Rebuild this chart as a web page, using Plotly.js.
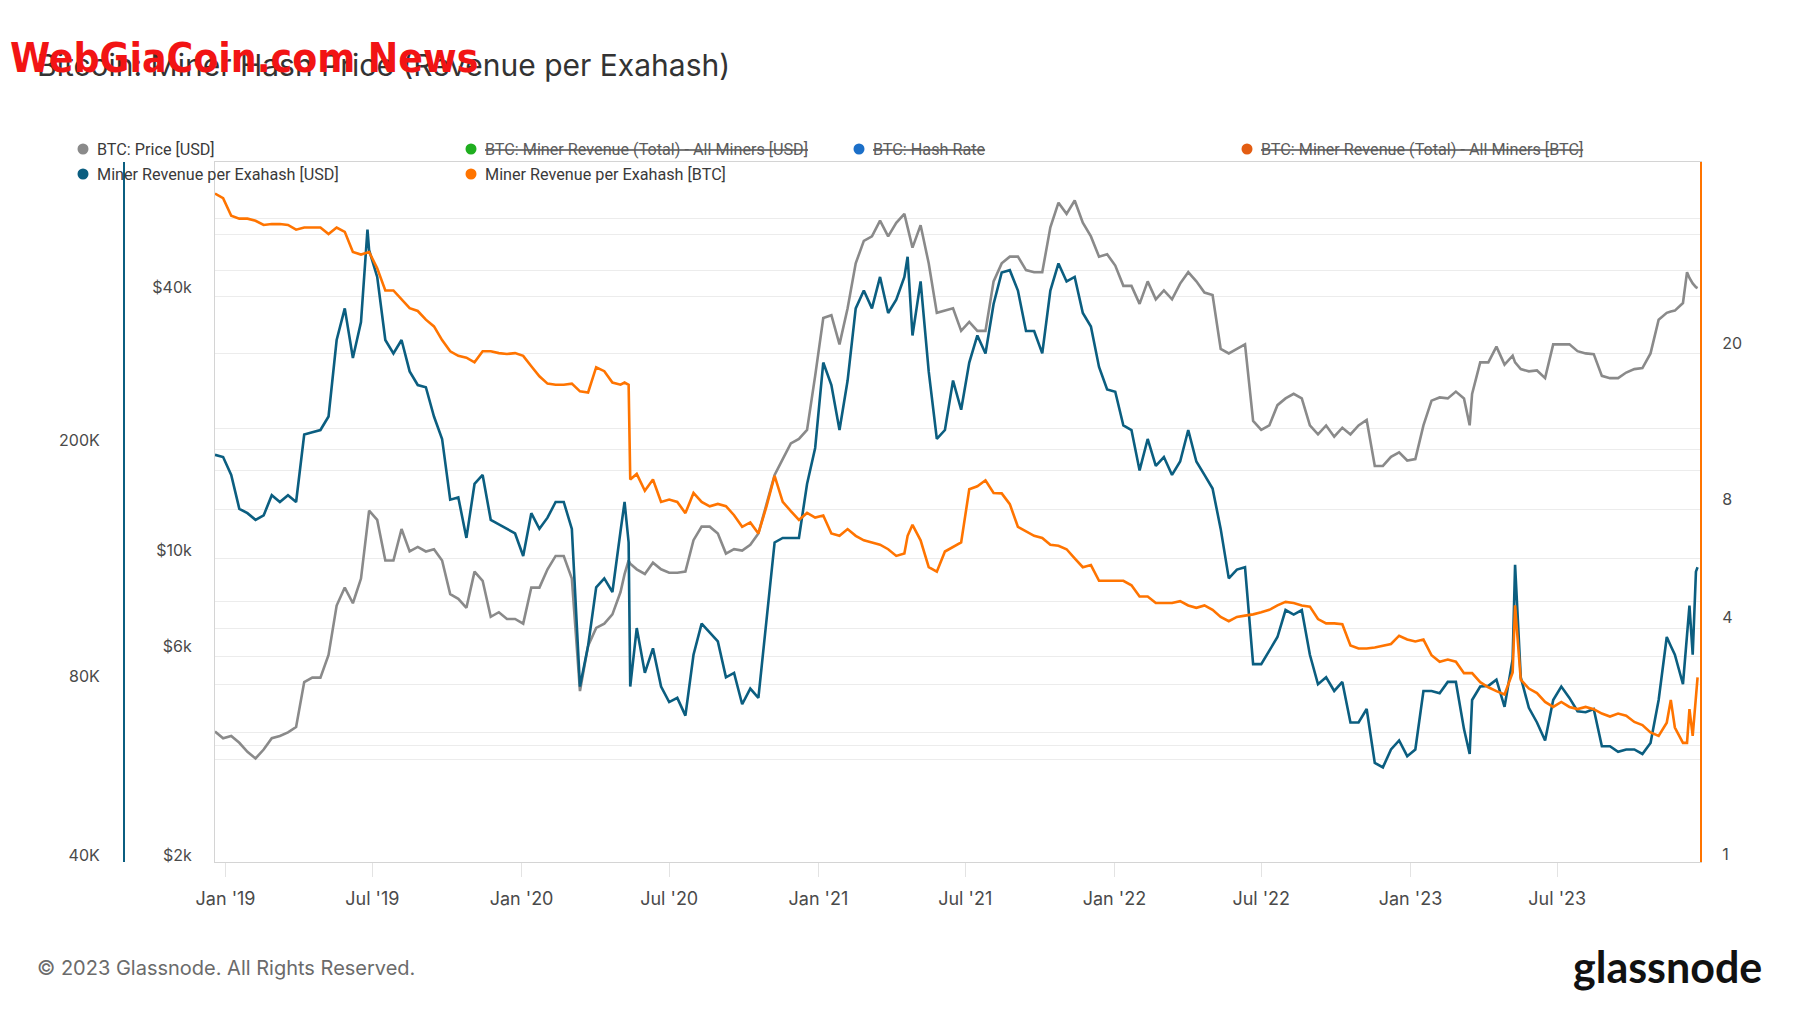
<!DOCTYPE html>
<html><head><meta charset="utf-8">
<script src="https://cdn.plot.ly/plotly-3.0.1.min.js"></script>
<style>html,body{margin:0;padding:0;background:#fff;}#chart{width:1800px;height:1013px;}</style>
</head><body><div id="chart"></div>
<script>
// ---------- DATA ----------
const dates = [
 '2018-12-19','2018-12-29','2019-01-08','2019-01-18','2019-01-28','2019-02-07','2019-02-17','2019-02-27','2019-03-09','2019-03-19',
 '2019-03-29','2019-04-08','2019-04-18','2019-04-28','2019-05-08','2019-05-18','2019-05-28','2019-06-07','2019-06-17',
 '2019-06-25','2019-06-27','2019-07-07','2019-07-17','2019-07-27','2019-08-06','2019-08-16','2019-08-26','2019-09-05','2019-09-15',
 '2019-09-25','2019-10-05','2019-10-15','2019-10-25','2019-11-04','2019-11-14','2019-11-24','2019-12-04','2019-12-14','2019-12-24',
 '2020-01-03','2020-01-13','2020-01-23','2020-02-02','2020-02-12','2020-02-22','2020-03-03','2020-03-13','2020-03-23','2020-04-02',
 '2020-04-12','2020-04-22','2020-05-02',
 '2020-05-07','2020-05-12','2020-05-14',
 '2020-05-22','2020-06-01','2020-06-11','2020-06-21','2020-07-01','2020-07-11','2020-07-21','2020-07-31','2020-08-10','2020-08-20',
 '2020-08-30','2020-09-09','2020-09-19','2020-09-29','2020-10-09','2020-10-19','2020-10-29','2020-11-08','2020-11-18','2020-11-28',
 '2020-12-08','2020-12-18','2020-12-28','2021-01-07','2021-01-17','2021-01-27','2021-02-06','2021-02-16','2021-02-26','2021-03-08',
 '2021-03-18','2021-03-28','2021-04-07','2021-04-17',
 '2021-04-21',
 '2021-04-27','2021-05-07','2021-05-17','2021-05-27','2021-06-06','2021-06-16','2021-06-26','2021-07-06','2021-07-16','2021-07-26',
 '2021-08-05','2021-08-15','2021-08-25','2021-09-04','2021-09-14','2021-09-24','2021-10-04','2021-10-14','2021-10-24','2021-11-03',
 '2021-11-13','2021-11-23','2021-12-03','2021-12-13','2021-12-23','2022-01-02','2022-01-12','2022-01-22','2022-02-01','2022-02-11',
 '2022-02-21','2022-03-03','2022-03-13','2022-03-23','2022-04-02','2022-04-12','2022-04-22','2022-05-02','2022-05-12','2022-05-22',
 '2022-06-01','2022-06-11','2022-06-21','2022-07-01','2022-07-11','2022-07-21','2022-07-31','2022-08-10','2022-08-20','2022-08-30',
 '2022-09-09','2022-09-19','2022-09-29','2022-10-09','2022-10-19','2022-10-29','2022-11-08','2022-11-18','2022-11-28','2022-12-08',
 '2022-12-18','2022-12-28','2023-01-07','2023-01-17','2023-01-27','2023-02-06','2023-02-16','2023-02-26','2023-03-08',
 '2023-03-15',
 '2023-03-18','2023-03-28','2023-04-07','2023-04-17','2023-04-27','2023-05-07',
 '2023-05-10',
 '2023-05-17','2023-05-27','2023-06-06','2023-06-16','2023-06-26','2023-07-06','2023-07-16','2023-07-26','2023-08-05','2023-08-15',
 '2023-08-25','2023-09-04','2023-09-14','2023-09-24','2023-10-04','2023-10-14','2023-10-24','2023-11-03','2023-11-13',
 '2023-11-18','2023-11-23','2023-12-03','2023-12-08','2023-12-11','2023-12-15','2023-12-19','2023-12-21'
];

// BTC: Price [USD]
const btcPriceUsd = [
 3837,3703,3747,3616,3448,3328,3489,3703,3747,3819,3930,4983,5100,5100,5750,7460,8200,7550,8600,
 11600,12300,11720,9460,9460,11170,9920,10160,9920,10040,9460,7920,7730,7370,8920,8500,7030,7200,6950,6950,6780,8200,8200,9030,9690,9690,8600,4750,6030,6630,6780,7120,8010,
 8800,9460,9300,
 9030,8810,9350,9030,8870,8870,8920,10530,11310,11310,10910,9810,10040,9970,10280,10910,12730,14860,16150,17550,17970,18850,25060,34000,34500,29590,35780,45370,51100,52300,56860,52300,56200,58900,
 54850,
 49300,55500,45370,34940,35360,35780,31770,33300,31770,31770,41260,45370,47000,47000,43780,43300,43300,54850,62500,58900,
 63200,56200,52300,47000,47600,44830,40290,40290,36640,41260,37520,39340,37520,40780,43300,41260,38880,38400,28890,28210,
 28890,29590,19750,18850,19290,21470,22250,22790,22250,19290,18400,19290,18180,19060,18400,19290,19860,15580,15580,16340,
 16730,16030,16150,19290,21990,22360,22250,23060,22250,
 19300,
 22790,26900,26900,29240,26590,27880,
 26900,
 25970,25660,25780,24760,29590,29590,29590,28550,28210,28100,25060,24760,24760,25500,25970,26100,28210,33710,34940,
 35200,35360,36800,43300,42000,40800,40000,39800
];

// Miner Revenue per Exahash [USD]
const revPerEhUsd = [
 189000,187400,174800,153300,150700,146800,149400,161600,157400,161600,157400,204500,206300,208100,219300,295100,333600,275200,316400,
 452700,418300,376900,295100,280100,295100,261200,247800,245700,219300,201000,158800,160200,136900,168800,174800,146800,144300,141800,139300,127600,150700,141800,148100,157400,157400,141800,76900,90000,113000,117000,111000,140500,
 157400,134500,76900,
 96500,81100,89200,76900,72400,73600,68700,87000,98200,94900,91600,79700,81100,71800,76300,73600,100000,134500,136900,136900,136900,168800,194100,270400,247800,208100,252100,333600,357500,333600,376900,327700,345200,376900,
 407600,
 300300,370400,261200,201000,208100,252100,225100,270400,300300,280100,339400,383500,386900,357500,305600,305600,280100,357500,397200,370400,
 376900,327700,310900,265800,243500,241400,211800,208100,177900,201000,181000,187400,174800,184200,208100,184200,174800,165800,141800,117000,
 121100,122200,83900,83900,88400,93200,103500,101700,103500,87000,77600,79700,75600,78300,66900,66900,70500,57200,56200,60250,
 62400,58700,60250,75600,75600,74900,78300,78300,65200,
 59200,
 73000,76900,77100,79000,71100,85500,
 123300,
 79700,70800,66900,62400,73000,76900,73600,69900,69600,70500,61000,61000,59700,60250,60250,59200,61800,73000,93200,
 90000,87000,77600,94900,105300,87000,120100,122200
];

// Miner Revenue per Exahash [BTC]
const revPerEhBtc = [
 48.2,46.9,42.3,41.6,41.6,41.1,40.1,40.3,40.3,40.1,39.0,39.5,39.5,39.5,38.0,39.5,38.5,34.2,33.7,
 34.0,34.2,31.1,27.3,27.3,25.9,24.6,24.2,23.0,22.1,20.4,19.1,18.6,18.4,17.9,19.1,19.1,18.9,18.8,18.9,18.6,17.5,16.5,15.8,15.7,15.7,15.8,15.1,15.0,17.4,17.0,15.9,15.7,
 15.9,15.7,9.0,
 9.3,8.43,9.0,7.89,8.0,7.89,7.39,8.32,7.89,7.69,7.8,7.7,7.3,6.82,7.0,6.56,7.69,9.2,7.9,7.48,7.1,7.4,7.2,7.29,6.56,6.47,6.73,6.47,6.3,6.22,6.14,5.98,5.75,5.83,
 6.47,
 6.9,6.3,5.38,5.24,5.9,6.06,6.22,8.5,8.65,8.96,8.32,8.3,7.79,6.82,6.65,6.47,6.39,6.14,6.1,5.98,
 5.67,5.38,5.45,4.97,4.97,4.97,4.97,4.84,4.53,4.53,4.36,4.36,4.36,4.41,4.3,4.24,4.3,4.19,4.02,3.92,
 4.02,4.05,4.08,4.13,4.19,4.3,4.39,4.36,4.3,4.27,3.97,3.87,3.87,3.85,3.4,3.34,3.34,3.36,3.39,3.43,
 3.6,3.52,3.48,3.52,3.21,3.09,3.13,3.09,2.89,
 2.89,
 2.89,2.74,2.66,2.60,2.55,2.9,
 4.3,
 2.78,2.64,2.57,2.44,2.37,2.44,2.37,2.34,2.37,2.34,2.28,2.24,2.28,2.25,2.17,2.13,2.04,2.0,2.16,
 2.47,2.10,1.92,1.92,2.34,2.00,2.60,2.82
];

// Tick labels
const xTickVals = ['2019-01-01','2019-07-01','2020-01-01','2020-07-01','2021-01-01','2021-07-01','2022-01-01','2022-07-01','2023-01-01','2023-07-01'];
const xTickText = ["Jan '19","Jul '19","Jan '20","Jul '20","Jan '21","Jul '21","Jan '22","Jul '22","Jan '23","Jul '23"];
const priceTickVals = [2000, 6000, 10000, 40000];
const priceTickText = ['$2k', '$6k', '$10k', '$40k'];
const usdTickVals = [40000, 80000, 200000];
const usdTickText = ['40K', '80K', '200K'];
const btcTickVals = [1, 4, 8, 20];
const btcTickText = ['1', '4', '8', '20'];

// Legend entries (name, colour, hidden/struck)
const legendNames = ['BTC: Price [USD]','BTC: Miner Revenue (Total) - All Miners [USD]','BTC: Hash Rate','BTC: Miner Revenue (Total) - All Miners [BTC]','Miner Revenue per Exahash [USD]','Miner Revenue per Exahash [BTC]'];
const legendColors = ['#8a8a8a','#1fae1f','#1b6fc8','#e35d12','#0b5e80','#ff7400'];
const legendStruck = [false,true,true,true,false,false];

// ---------- LAYOUT HELPERS (pixel -> paper) ----------
const W = 1800, H = 1013;
const ML = 124, MR = 100, MT = 162, MB = 151;
const PW = W - ML - MR, PH = H - MT - MB;
const PX = x => (x - ML) / PW;
const PY = y => (H - MB - y) / PH;

const FONT = 'Inter, Roboto, "Open Sans", sans-serif';
const tickFont = {family: FONT, size: 16, color: '#4a4a4a'};

// background horizontal grid lines (pixel rows of the reference)
const gridRows = [218.5,234,270,296,353.5,428.7,449,470.5,509,558.7,601,628,656.4,684.7,732.4,745,759];

const traces = [
  {x: [], y: [], xaxis: 'x', yaxis: 'y', mode: 'lines', showlegend: false, hoverinfo: 'skip'},
  {x: dates, y: btcPriceUsd, xaxis: 'x', yaxis: 'y2', mode: 'lines', name: legendNames[0],
   line: {color: '#8a8a8a', width: 2.6}},
  {x: dates, y: revPerEhUsd, xaxis: 'x', yaxis: 'y3', mode: 'lines', name: legendNames[4],
   line: {color: '#0b5e80', width: 2.6}},
  {x: dates, y: revPerEhBtc, xaxis: 'x', yaxis: 'y4', mode: 'lines', name: legendNames[5],
   line: {color: '#ff7400', width: 2.6}}
];

const annotations = [];
const shapes = [];
const legX = [83, 471, 859, 1247, 83, 471];
const legY = [149, 149, 149, 149, 174, 174];
for (let i = 0; i < legendNames.length; i++) {
  shapes.push({type: 'circle', xref: 'paper', yref: 'paper', xsizemode: 'pixel', ysizemode: 'pixel',
    xanchor: PX(legX[i]), yanchor: PY(legY[i]), x0: -5.5, x1: 5.5, y0: -5.5, y1: 5.5,
    fillcolor: legendColors[i], line: {width: 0}});
  annotations.push({xref: 'paper', yref: 'paper', x: PX(legX[i] + 12), y: PY(legY[i]),
    xanchor: 'left', yanchor: 'middle', showarrow: false,
    text: legendStruck[i] ? '<span style="text-decoration:line-through">' + legendNames[i] + '</span>' : legendNames[i],
    font: {family: 'Roboto, Inter, sans-serif', size: 16.2, color: legendStruck[i] ? '#5c5c5c' : '#3a3a3a'}});
}

annotations.push({xref: 'paper', yref: 'paper', x: PX(8), y: PY(58), xanchor: 'left', yanchor: 'middle', showarrow: false,
  text: '<b>WebGiaCoin.com News</b>', font: {family: '"Liberation Sans Narrow", "DejaVu Sans Condensed", sans-serif', size: 40.5, color: '#f21414'}});
annotations.push({xref: 'paper', yref: 'paper', x: PX(35), y: PY(968), xanchor: 'left', yanchor: 'middle', showarrow: false,
  text: '© 2023 Glassnode. All Rights Reserved.', font: {family: FONT, size: 20, color: '#6b6b6b'}});
annotations.push({xref: 'paper', yref: 'paper', x: PX(1764), y: PY(966), xanchor: 'right', yanchor: 'middle', showarrow: false,
  text: '<b>glassnode</b>', font: {family: 'Lato, "Open Sans", sans-serif', size: 43, color: '#111111'}});

const layout = {
  width: W, height: H,
  paper_bgcolor: '#ffffff', plot_bgcolor: '#ffffff',
  margin: {l: ML, r: MR, t: MT, b: MB, pad: 0, autoexpand: false},
  showlegend: false,
  title: {text: 'Bitcoin: Miner Hash Price (Revenue per Exahash)', xref: 'container', yref: 'container',
    x: 37 / W, xanchor: 'left', y: 1 - 65 / H, yanchor: 'middle',
    font: {family: FONT, size: 30, color: '#333333'}},
  xaxis: {domain: [PX(215), 1], type: 'date', range: ['2018-12-19', '2023-12-24'],
    tickvals: xTickVals, ticktext: xTickText, ticks: 'outside', ticklen: 14, tickwidth: 1, tickcolor: '#e3e3e3',
    showline: true, linecolor: '#d4d4d4', linewidth: 1, mirror: true, showgrid: false, zeroline: false,
    tickfont: {family: FONT, size: 18, color: '#4a4a4a'}, ticklabelstandoff: 6},
  yaxis: {range: [0, 1], tickvals: gridRows.map(PY), showticklabels: false, ticks: '', showgrid: true,
    gridcolor: '#ececec', gridwidth: 1, zeroline: false, showline: false, anchor: 'x'},
  yaxis2: {overlaying: 'y', anchor: 'x', side: 'left', type: 'log', range: [3.285, 4.889],
    tickvals: priceTickVals, ticktext: priceTickText, ticks: '', showgrid: false, zeroline: false,
    showline: true, linecolor: '#d4d4d4', linewidth: 1, tickfont: tickFont, ticklabelstandoff: 19},
  yaxis3: {overlaying: 'y', anchor: 'free', position: 0, side: 'left', type: 'log', range: [4.5903, 5.7699],
    tickvals: usdTickVals, ticktext: usdTickText, ticks: '', showgrid: false, zeroline: false,
    showline: true, linecolor: '#0b5e80', linewidth: 2, tickfont: tickFont, ticklabelstandoff: 20},
  yaxis4: {overlaying: 'y', anchor: 'x', side: 'right', type: 'log', range: [-0.0204, 1.7635],
    tickvals: btcTickVals, ticktext: btcTickText, ticks: '', showgrid: false, zeroline: false,
    showline: true, linecolor: '#ff7400', linewidth: 2, tickfont: tickFont, ticklabelstandoff: 17},
  annotations: annotations,
  shapes: shapes
};

Plotly.newPlot('chart', traces, layout, {staticPlot: true, displayModeBar: false});
</script>
</body></html>
